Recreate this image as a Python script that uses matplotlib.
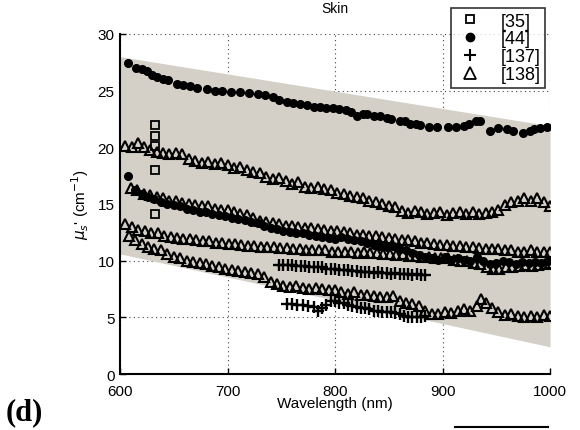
import matplotlib
matplotlib.use("Agg")
import matplotlib.pyplot as plt
from matplotlib.lines import Line2D

plt.rcParams["font.family"] = ["Liberation Sans", "DejaVu Sans"]

# shaded range of reported values (corners)
band_x = [600, 1000]
band_top = [28.0, 21.9]
band_bot = [10.6, 2.4]

# [35] squares
sq_x = [633, 633, 633, 633, 633]
sq_y = [22.0, 21.0, 20.1, 18.0, 14.1]

# [44] upper circles
c1_x = [607, 615, 620, 625, 630, 634, 640, 645, 653, 659, 665, 672, 681, 688, 695, 703, 712, 720,
        728, 735, 742, 748, 755, 761, 767, 774, 780, 786, 792, 798, 804, 810, 815, 820, 826, 830,
        836, 842, 848, 852, 860, 865, 870, 875, 879, 887, 895, 905, 913, 920, 925, 931, 935, 944,
        952, 960, 966, 975, 981, 985, 991, 997]
c1_y = [27.4, 27.0, 26.9, 26.7, 26.4, 26.2, 26.0, 25.9, 25.6, 25.5, 25.4, 25.2, 25.1, 25.0, 25.0,
        24.9, 24.9, 24.8, 24.7, 24.6, 24.4, 24.2, 24.0, 23.9, 23.8, 23.7, 23.6, 23.6, 23.5, 23.5,
        23.4, 23.3, 23.1, 22.8, 22.9, 22.9, 22.8, 22.8, 22.6, 22.5, 22.3, 22.3, 22.1, 22.1, 22.0,
        21.8, 21.8, 21.8, 21.8, 21.9, 22.1, 22.3, 22.3, 21.4, 21.7, 21.6, 21.4, 21.3, 21.4, 21.6,
        21.7, 21.8]

# [44] middle circles
c2_x = [607, 614, 620, 626, 632, 638, 644, 650, 656, 662, 668, 674, 680, 686, 692, 698, 704, 710,
        716, 722, 728, 734, 740, 746, 752, 758, 764, 770, 776, 782, 788, 794, 800, 806, 812, 818,
        824, 830, 836, 842, 848, 854, 860, 866, 872, 878, 884, 890, 896, 902, 908, 914, 920, 926,
        932, 938, 944, 950, 956, 962, 968, 974, 980, 986, 992, 998]
c2_y = [17.5, 16.2, 15.9, 15.6, 15.4, 15.2, 15.0, 14.9, 14.8, 14.6, 14.5, 14.3, 14.3, 14.1, 14.0,
        13.9, 13.8, 13.7, 13.6, 13.4, 13.3, 13.1, 12.9, 12.8, 12.6, 12.5, 12.4, 12.4, 12.3, 12.2,
        12.1, 12.0, 11.9, 12.1, 11.9, 11.8, 11.7, 11.6, 11.4, 11.3, 11.2, 11.3, 11.0, 10.9, 10.7,
        10.5, 10.3, 10.2, 10.1, 10.3, 10.1, 10.2, 10.1, 10.0, 10.3, 10.0, 9.7, 9.8, 10.0, 9.9, 9.7,
        9.9, 9.8, 9.9, 9.8, 10.0]

# [137] plus series
p1_x = [748, 752, 756, 760, 764, 768, 772, 776, 780, 784, 788, 792, 796, 800, 804, 808, 812, 816,
        820, 824, 828, 832, 836, 840, 844, 848, 852, 856, 860, 864, 868, 872, 876, 880, 884]
p1_y = [9.6, 9.6, 9.6, 9.6, 9.5, 9.5, 9.5, 9.4, 9.4, 9.4, 9.4, 9.3, 9.3, 9.3, 9.2, 9.2, 9.2, 9.1,
        9.1, 9.0, 9.0, 9.0, 8.9, 9.0, 8.9, 8.9, 8.8, 8.9, 8.8, 8.8, 8.8, 8.7, 8.8, 8.7, 8.7]
p2_x = [755, 760, 765, 770, 775, 780, 784, 788, 792, 796, 800, 804, 808, 812, 816, 820, 824, 828,
        832, 836, 840, 844, 848, 852, 856, 860, 864, 868, 872, 876, 880, 884]
p2_y = [6.2, 6.2, 6.1, 6.1, 6.0, 5.9, 5.6, 5.8, 6.1, 6.4, 6.4, 6.3, 6.3, 6.1, 6.0, 5.9, 5.8, 5.8,
        5.7, 5.6, 5.6, 5.5, 5.5, 5.5, 5.4, 5.3, 5.1, 5.0, 5.0, 5.0, 5.0, 5.1]

# [138] triangle series
t1_x = [605, 611, 617, 622, 628, 634, 640, 646, 652, 658, 664, 670, 676, 682, 688, 694, 700, 706,
        712, 718, 724, 730, 736, 742, 748, 754, 760, 766, 772, 778, 784, 790, 796, 802, 808, 814,
        820, 826, 832, 838, 844, 850, 856, 862, 868, 874, 880, 886, 892, 898, 904, 910, 916, 922,
        928, 934, 940, 946, 952, 958, 964, 970, 976, 982, 988, 994, 1000]
t1_y = [20.1, 20.0, 20.4, 20.0, 19.8, 19.6, 19.5, 19.4, 19.5, 19.4, 19.0, 18.8, 18.6, 18.7, 18.5,
        18.6, 18.4, 18.2, 18.3, 18.0, 17.8, 17.7, 17.4, 17.2, 17.3, 17.0, 16.8, 16.9, 16.5, 16.4,
        16.5, 16.3, 16.2, 16.0, 15.9, 15.7, 15.6, 15.5, 15.3, 15.2, 15.0, 14.8, 14.7, 14.4, 14.2,
        14.4, 14.3, 14.1, 14.2, 14.3, 14.0, 14.2, 14.3, 14.1, 14.3, 14.1, 14.2, 14.3, 14.5, 14.9,
        15.2, 15.3, 15.5, 15.3, 15.5, 15.2, 14.8]
t2_x = [610, 616, 622, 628, 634, 640, 646, 652, 658, 664, 670, 676, 682, 688, 694, 700, 706, 712,
        718, 724, 730, 736, 742, 748, 754, 760, 766, 772, 778, 784, 790, 796, 802, 808, 814, 820,
        826, 832, 838, 844, 850, 856, 862, 868, 874, 880, 886, 892, 898, 904, 910, 916, 922, 928,
        934, 940, 946, 952, 958, 964, 970, 976, 982, 988, 994, 1000]
t2_y = [16.4, 16.2, 15.9, 15.8, 15.6, 15.5, 15.3, 15.3, 15.1, 15.0, 14.9, 14.8, 14.8, 14.6, 14.5,
        14.5, 14.3, 14.1, 14.0, 13.8, 13.5, 13.4, 13.3, 13.2, 13.1, 13.1, 13.0, 12.9, 12.9, 12.8,
        12.7, 12.6, 12.6, 12.5, 12.4, 12.3, 12.3, 12.2, 12.2, 12.1, 12.0, 11.9, 11.8, 11.8, 11.7,
        11.6, 11.6, 11.5, 11.4, 11.4, 11.3, 11.3, 11.2, 11.2, 11.1, 11.0, 11.0, 11.0, 10.9, 10.9,
        10.8, 10.8, 10.9, 10.8, 10.8, 10.8]
t3_x = [605, 611, 617, 623, 629, 635, 641, 647, 653, 659, 665, 671, 677, 683, 689, 695, 701, 707,
        713, 719, 725, 731, 737, 743, 749, 755, 761, 767, 773, 779, 785, 791, 797, 803, 809, 815,
        821, 827, 833, 839, 845, 851, 857, 863, 869, 875, 881, 887, 893, 899, 905, 911, 917, 923,
        929, 935, 941, 947, 953, 959, 965, 971, 977, 983, 989, 995, 1000]
t3_y = [13.2, 13.0, 12.7, 12.6, 12.4, 12.4, 12.2, 12.1, 12.0, 11.9, 11.9, 11.8, 11.7, 11.7, 11.6,
        11.6, 11.5, 11.5, 11.4, 11.3, 11.3, 11.2, 11.2, 11.2, 11.1, 11.1, 11.0, 11.0, 10.9, 10.9,
        10.9, 10.9, 10.8, 10.8, 10.8, 10.8, 10.7, 10.8, 10.7, 10.7, 10.6, 10.6, 10.5, 10.6, 10.4,
        10.4, 10.3, 10.3, 10.2, 10.2, 10.2, 10.1, 10.0, 10.0, 9.8, 9.7, 9.4, 9.3, 9.3, 9.4, 9.4,
        9.5, 9.6, 9.5, 9.6, 9.7, 9.8]
t4_x = [608, 614, 620, 626, 632, 638, 644, 650, 656, 662, 668, 674, 680, 686, 692, 698, 704, 710,
        716, 722, 728, 734, 740, 746, 752, 758, 764, 770, 776, 782, 788, 794, 800, 806, 812, 818,
        824, 830, 836, 842, 848, 854, 860, 866, 872, 878, 884, 890, 896, 902, 908, 914, 920, 926,
        932, 936, 940, 946, 952, 958, 964, 970, 976, 982, 988, 994, 1000]
t4_y = [12.2, 11.8, 11.5, 11.2, 11.0, 10.9, 10.6, 10.3, 10.2, 10.0, 9.9, 9.8, 9.7, 9.5, 9.4, 9.3,
        9.2, 9.1, 9.0, 8.9, 8.8, 8.6, 8.1, 7.9, 7.8, 7.7, 7.8, 7.6, 7.5, 7.6, 7.5, 7.4, 7.4, 7.2,
        7.1, 7.2, 7.0, 7.0, 6.9, 6.8, 6.8, 6.9, 6.4, 6.3, 6.2, 6.0, 5.6, 5.3, 5.3, 5.5, 5.4, 5.6,
        5.7, 5.6, 6.0, 6.6, 6.3, 5.8, 5.5, 5.2, 5.3, 5.1, 5.0, 5.1, 5.0, 5.2, 5.1]

fig = plt.figure(figsize=(5.8, 4.31), dpi=100)
ax = fig.add_axes([0.2069, 0.1299, 0.7414, 0.789])

ax.fill_between(band_x, band_bot, band_top, color="#d4d0c8", lw=0, zorder=1)

tri = dict(marker="^", ls="none", mfc="none", mec="black", mew=1.5, ms=7.5, zorder=3)
ax.plot(t1_x, t1_y, **tri)
ax.plot(t2_x, t2_y, **tri)
ax.plot(t3_x, t3_y, **tri)
ax.plot(t4_x, t4_y, **tri)

circ = dict(marker="o", ls="none", color="black", ms=5.5, zorder=4)
ax.plot(c1_x, c1_y, **circ)
ax.plot(c2_x, c2_y, **circ)

plus = dict(marker="+", ls="none", color="black", ms=8, mew=1.7, zorder=4)
ax.plot(p1_x, p1_y, **plus)
ax.plot(p2_x, p2_y, **plus)

ax.plot(sq_x, sq_y, marker="s", ls="none", mfc="none", mec="black", mew=1.3, ms=5.5, zorder=4)

ax.set_xlim(600, 1000)
ax.set_ylim(0, 30)
ax.set_xticks([600, 700, 800, 900, 1000])
ax.set_yticks([0, 5, 10, 15, 20, 25, 30])
ax.grid(True, ls=(0, (1, 3)), color="#444444", lw=0.8, zorder=0)
ax.set_axisbelow(True)
ax.spines["top"].set_visible(False)
ax.spines["right"].set_visible(False)
ax.spines["left"].set_linewidth(1.5)
ax.spines["bottom"].set_linewidth(1.5)
ax.tick_params(direction="in", length=4, width=1, labelsize=11)
ax.tick_params(axis="x", pad=7)
ax.tick_params(axis="y", pad=4)

ax.set_title("Skin", fontsize=10, pad=16)
ax.set_xlabel("Wavelength (nm)", fontsize=11, labelpad=-1)
ax.set_ylabel(r"$\mu_s$' (cm$^{-1}$)", fontsize=11, labelpad=5)

handles = [
    Line2D([], [], marker="s", ls="none", mfc="none", mec="black", mew=1.3, ms=6),
    Line2D([], [], marker="o", ls="none", color="black", ms=6),
    Line2D([], [], marker="+", ls="none", color="black", ms=8, mew=1.5),
    Line2D([], [], marker="^", ls="none", mfc="none", mec="black", mew=1.3, ms=8),
]
leg = fig.legend(handles, ["[35]", "[44]", "[137]", "[138]"], loc="upper right",
                 bbox_to_anchor=(0.955, 1.0), fontsize=13, frameon=True, fancybox=False,
                 edgecolor="black", labelspacing=0.05, handletextpad=0.9, borderpad=0.25,
                 handlelength=1.6)
leg.get_frame().set_linewidth(1.2)

fig.text(0.01, 0.025, "(d)", fontsize=22, fontweight="bold", family="Liberation Serif")
fig.add_artist(Line2D([0.785, 0.945], [0.007, 0.007], color="black", lw=1.5))

fig.savefig("out.png", dpi=100)
